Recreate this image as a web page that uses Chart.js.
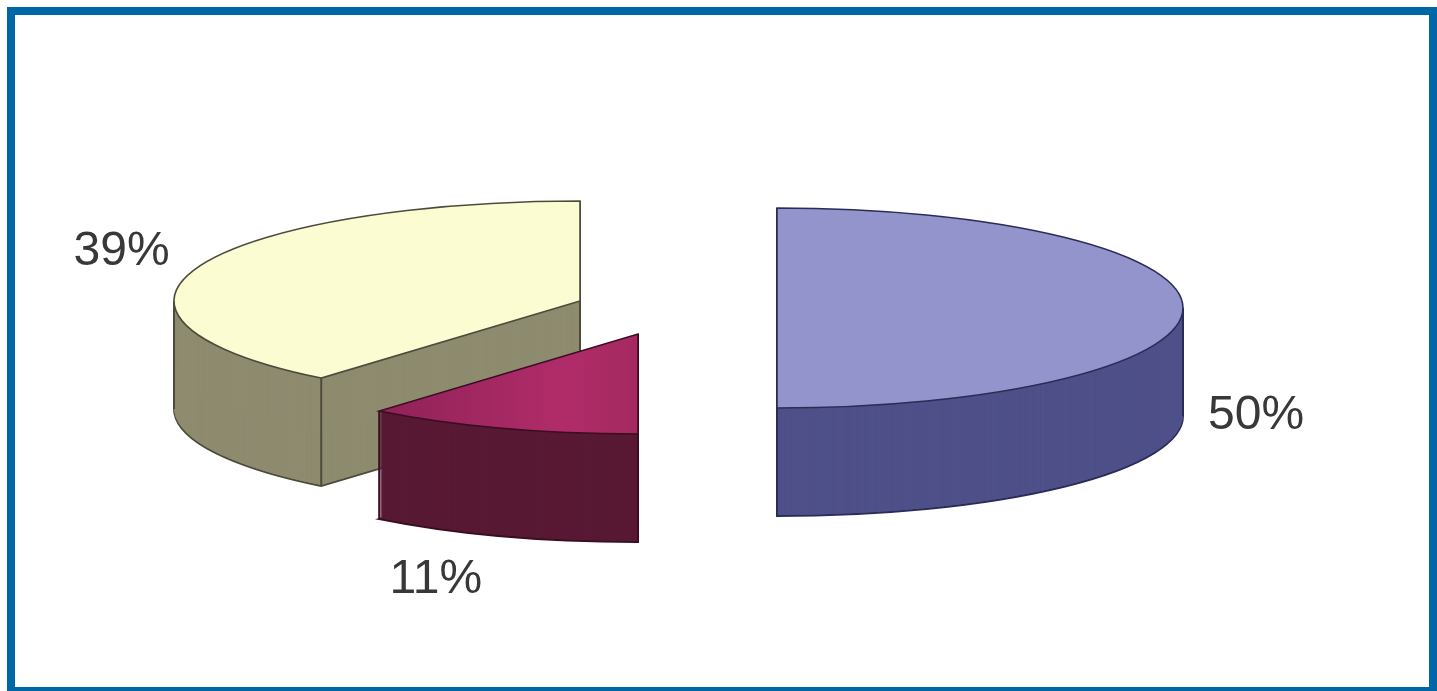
<!DOCTYPE html>
<html>
<head>
<meta charset="utf-8">
<script src="https://cdn.jsdelivr.net/npm/chart.js@4.4.1/dist/chart.umd.min.js"></script>
<style>
  body { margin: 0; background: #fff; overflow: hidden; }
  #wrap { position: relative; width: 1437px; height: 691px; }
  #pie { position: absolute; left: 0; top: 0; }
  .frame {
    position: absolute; left: 7px; top: 7px; width: 1430px; height: 688px;
    box-sizing: border-box; border: 8px solid #0067a6; pointer-events: none;
  }
</style>
</head>
<body>
<div id="wrap">
  <canvas id="pie" width="1437" height="691"></canvas>
  <div class="frame"></div>
</div>
<script>
const categories = ['Segment A', 'Segment B', 'Segment C']
const shares = [50, 11, 39]

const topColors = ['#9394cb', '#a62a62', '#fcfcd3']
const sideColors = ['#4f5089', '#581934', '#8e8b6f']
const edgeColors = ['#2c2c58', '#3a0d22', '#4d4c3c']

const TILT = 100 / 406   // how flat the disc looks
const DEPTH = 108        // thickness of the disc in px
// pull each slice away from the centre (screen px)
const explode = [[97, 0], [-42, 26], [-100, -7]]
const labelReach = [1.18, 1.47, 1.2]
const labelLift = [0, -1, -9]
const drawOrder = [2, 1, 0]  // back slice first

function squash(ctx, cy, drop) {
    ctx.translate(0, cy + drop)
    ctx.scale(1, TILT)
    ctx.translate(0, -cy)
}

function sectorPath(ctx, arc) {
    ctx.beginPath()
    ctx.moveTo(arc.x, arc.y)
    ctx.arc(arc.x, arc.y, arc.outerRadius, arc.startAngle, arc.endAngle)
    ctx.closePath()
}

function inSweep(a, start, end) {
    const TAU = Math.PI * 2
    let t = a
    while (t < start) t += TAU
    return t <= end
}

// the small slice's top is shaded a bit darker towards its outer corner
function topFill(context) {
    const i = context.dataIndex
    if (i !== 1) return topColors[i]
    const g = context.chart.ctx.createLinearGradient(380, 0, 640, 0)
    g.addColorStop(0, '#8f2256')
    g.addColorStop(0.7, '#b02c69')
    g.addColorStop(1, '#a4295f')
    return g
}

const pie3d = {
    id: 'pie3d',
    afterDatasetsUpdate(chart) {
        chart.getDatasetMeta(0).data.forEach((arc, i) => {
            arc.x += explode[i][0]
            arc.y += explode[i][1] / TILT
        })
    },
    beforeDatasetsDraw(chart) {
        const ctx = chart.ctx
        const cy = (chart.chartArea.top + chart.chartArea.bottom) / 2
        const sy = y => cy + TILT * (y - cy)
        const arcs = chart.getDatasetMeta(0).data

        drawOrder.forEach(i => {
            const arc = arcs[i]
            // rim: stack the sector downwards
            for (let d = DEPTH; d > 0; d--) {
                ctx.save()
                squash(ctx, cy, d)
                sectorPath(ctx, arc)
                ctx.restore()
                ctx.fillStyle = sideColors[i]
                ctx.fill()
                if (d === DEPTH) {
                    ctx.strokeStyle = edgeColors[i]
                    ctx.lineWidth = 2
                    ctx.stroke()
                }
            }
            // vertical edges at corners and at the ellipse extremes
            const R = arc.outerRadius
            const angles = [arc.startAngle, arc.endAngle]
            if (inSweep(0, arc.startAngle, arc.endAngle)) angles.push(0)
            if (inSweep(Math.PI, arc.startAngle, arc.endAngle)) angles.push(Math.PI)
            const pts = [[arc.x, sy(arc.y)]].concat(angles.map(a =>
                [arc.x + Math.cos(a) * R, sy(arc.y + Math.sin(a) * R)]))
            ctx.strokeStyle = edgeColors[i]
            ctx.lineWidth = 2
            pts.forEach(([x, y]) => {
                ctx.beginPath()
                ctx.moveTo(x, y)
                ctx.lineTo(x, y + DEPTH)
                ctx.stroke()
            })
        })

        ctx.save()
        squash(ctx, cy, 0)
    },
    afterDatasetsDraw(chart) {
        const ctx = chart.ctx
        ctx.restore()
        const cy = (chart.chartArea.top + chart.chartArea.bottom) / 2
        const sy = y => cy + TILT * (y - cy)
        const arcs = chart.getDatasetMeta(0).data

        // outline of each top face
        arcs.forEach((arc, i) => {
            ctx.save()
            squash(ctx, cy, 0)
            sectorPath(ctx, arc)
            ctx.restore()
            ctx.strokeStyle = edgeColors[i]
            ctx.lineWidth = 1.6
            ctx.stroke()
        })

        // percentage labels
        ctx.font = '48px "Liberation Sans", Arial, sans-serif'
        ctx.fillStyle = '#383838'
        ctx.textAlign = 'center'
        ctx.textBaseline = 'middle'
        arcs.forEach((arc, i) => {
            const mid = (arc.startAngle + arc.endAngle) / 2
            const r = arc.outerRadius * labelReach[i]
            const x = arc.x + Math.cos(mid) * r
            let y = sy(arc.y + Math.sin(mid) * r) + labelLift[i]
            if (Math.sin(mid) > -0.1) y += DEPTH
            ctx.fillText(shares[i] + '%', x, y)
        })
    }
}

new Chart(document.getElementById('pie'), {
    type: 'pie',
    data: {
        labels: categories,
        datasets: [{
            data: shares,
            backgroundColor: topFill,
            borderWidth: 0,
            radius: 406
        }]
    },
    options: {
        responsive: false,
        animation: false,
        events: [],
        layout: { padding: { left: 0, right: 77, top: 0, bottom: 75 } },
        plugins: {
            legend: { display: false },
            tooltip: { enabled: false }
        }
    },
    plugins: [pie3d]
})
</script>
</body>
</html>
